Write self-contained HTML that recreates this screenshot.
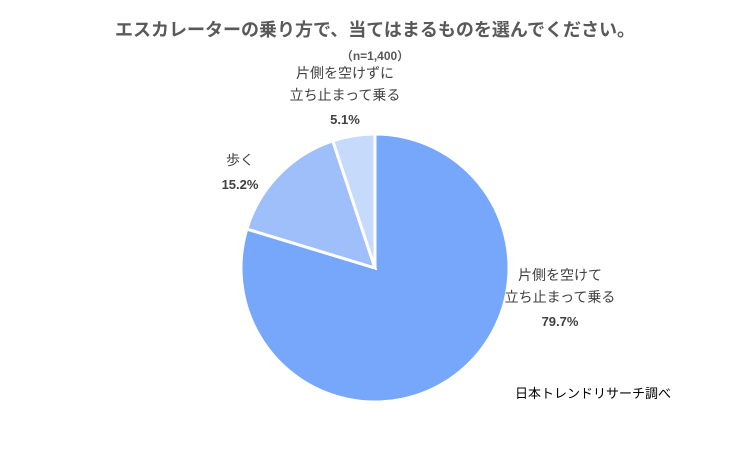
<!DOCTYPE html>
<html><head><meta charset="utf-8"><style>
body{margin:0;background:#fff;}
svg{display:block;font-family:"Liberation Sans","Noto Sans CJK JP",sans-serif;}
</style></head><body>
<svg id="chart" width="750" height="450" viewBox="0 0 750 450">
<rect width="750" height="450" fill="#fff"/>
<text x="375" y="36" text-anchor="middle" font-size="18" font-weight="bold" fill="#595959">エスカレーターの乗り方で、当てはまるものを選んでください。</text>
<text x="375" y="60" text-anchor="middle" font-size="12" font-weight="bold" fill="#595959">（n=1,400）</text>
<g id="slices"></g>
<g id="labels" font-size="14" fill="#404040"></g>
<text x="515" y="398" font-size="13" fill="#000">日本トレンドリサーチ調べ</text>
</svg>
<script>
const categories=["片側を空けて|立ち止まって乗る","歩く","片側を空けずに|立ち止まって乗る"];
const values=[79.7,15.2,5.1];
const colors=["#76a7fa","#9fbffa","#c6dafc"];
const labelPos=[[560,280],[240,165],[345,78]];
const cx=375,cy=268,r=134;
const NS="http://www.w3.org/2000/svg";
const total=values.reduce((a,b)=>a+b,0);
const sg=document.getElementById('slices'),lg=document.getElementById('labels');
let a0=0;
values.forEach((v,i)=>{
  const a1=a0+v/total*2*Math.PI;
  const x0=cx+r*Math.sin(a0),y0=cy-r*Math.cos(a0),x1=cx+r*Math.sin(a1),y1=cy-r*Math.cos(a1);
  const p=document.createElementNS(NS,'path');
  
  
  p.setAttribute('d',`M${cx},${cy}L${x0},${y0}A${r},${r} 0 ${a1-a0>Math.PI?1:0} 1 ${x1},${y1}Z`);
  p.setAttribute('fill',colors[i]);p.setAttribute('stroke','#fff');p.setAttribute('stroke-width','3');
  sg.appendChild(p);
  const lines=categories[i].split('|');
  const [lx,ly]=labelPos[i];
  const t=document.createElementNS(NS,'text');
  
  
  t.setAttribute('text-anchor','middle');
  lines.forEach((s,k)=>{const ts=document.createElementNS(NS,'tspan');ts.setAttribute('x',lx);ts.setAttribute('y',ly+k*22);ts.textContent=s;t.appendChild(ts);});
  const pv=document.createElementNS(NS,'tspan');pv.setAttribute('x',lx);pv.setAttribute('y',ly+lines.length*22+2);pv.setAttribute('font-weight','bold');pv.setAttribute('font-size','13');pv.textContent=v.toFixed(1)+'%';t.appendChild(pv);
  lg.appendChild(t);
  a0=a1;
});
</script>
</body></html>
